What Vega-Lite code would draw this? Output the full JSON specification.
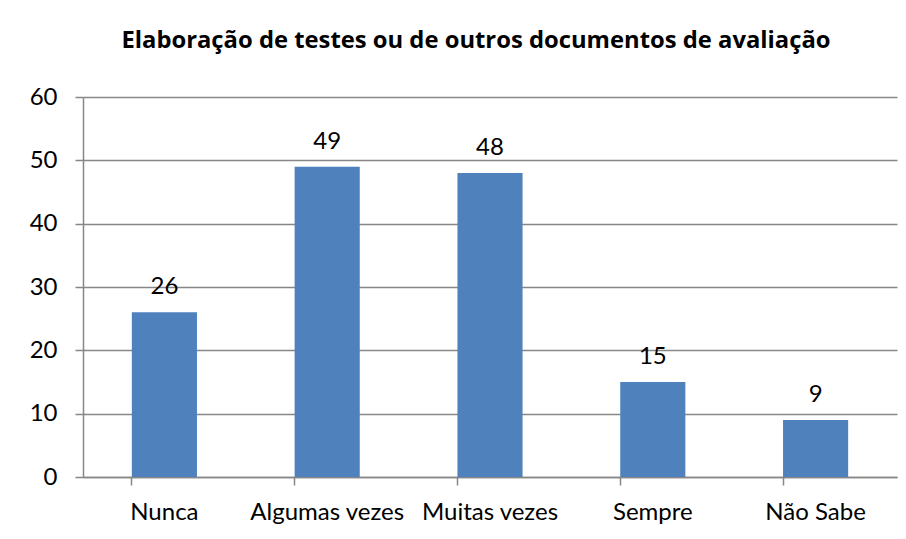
{
  "$schema": "https://vega.github.io/schema/vega-lite/v6.json",
  "width": 814,
  "height": 380,
  "autosize": {"type": "none"},
  "padding": {"left": 83, "top": 97, "right": 9, "bottom": 62},
  "background": "white",
  "title": {
    "text": "Elaboração de testes ou de outros documentos de avaliação",
    "font": "Open Sans",
    "fontSize": 23.8,
    "fontWeight": "bold",
    "color": "black",
    "anchor": "middle",
    "frame": "group",
    "baseline": "alphabetic",
    "offset": 13,
    "dx": -14
  },
  "data": {
    "values": [
      {"categoria": "Nunca", "valor": 26},
      {"categoria": "Algumas vezes", "valor": 49},
      {"categoria": "Muitas vezes", "valor": 48},
      {"categoria": "Sempre", "valor": 15},
      {"categoria": "Não Sabe", "valor": 9}
    ]
  },
  "config": {
    "view": {"stroke": null},
    "font": "Lato"
  },
  "encoding": {
    "x": {
      "field": "categoria",
      "type": "nominal",
      "sort": null,
      "scale": {"paddingInner": 0.6, "paddingOuter": 0.3},
      "axis": {
        "title": null,
        "labelAngle": 0,
        "labelFont": "Lato",
        "labelFontSize": 24,
        "labelColor": "black",
        "labelPadding": 15,
        "domainColor": "#878787",
        "domainWidth": 1.5,
        "tickColor": "#878787",
        "tickWidth": 1.5,
        "tickSize": 8,
        "bandPosition": 0,
        "grid": false
      }
    },
    "y": {
      "field": "valor",
      "type": "quantitative",
      "scale": {"domain": [0, 60], "nice": false},
      "axis": {
        "title": null,
        "values": [0, 10, 20, 30, 40, 50, 60],
        "labelFont": "Lato",
        "labelFontSize": 24,
        "labelColor": "black",
        "labelPadding": 18,
        "domainColor": "#878787",
        "domainWidth": 1.5,
        "tickColor": "#878787",
        "tickWidth": 1.5,
        "tickSize": 8,
        "grid": true,
        "gridColor": "#878787",
        "gridWidth": 1.5
      }
    }
  },
  "layer": [
    {"mark": {"type": "bar", "color": "#4F81BD"}},
    {
      "mark": {"type": "text", "baseline": "alphabetic", "dy": -18, "fontSize": 24, "font": "Lato", "color": "black"},
      "encoding": {"text": {"field": "valor", "type": "quantitative"}}
    }
  ]
}
